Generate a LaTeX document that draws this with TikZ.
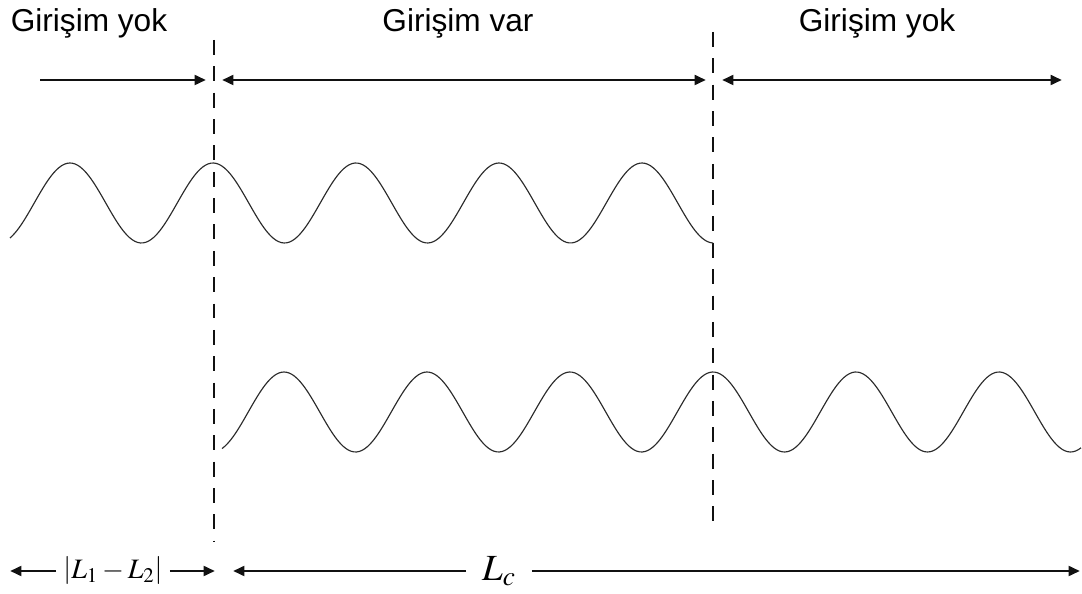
\documentclass[tikz,border=0pt]{standalone}
\usepackage{mathptmx}
\usepackage{fontspec}
\usepackage{tikz}
\usetikzlibrary{arrows.meta,positioning,calc}
\newfontfamily\labelfont{Liberation Sans}
\definecolor{wvdark}{HTML}{111111}
\definecolor{wvgrey}{HTML}{2A2A2A}

\begin{document}
\begin{tikzpicture}[x=0.02cm,y=-0.02cm,
  region/.style={font=\labelfont\fontsize{18}{21}\selectfont,anchor=base,inner sep=0pt},
  span/.style={wvdark,line width=1.7pt,-{Triangle[length=6.5pt,width=5.5pt]}},
  both/.style={wvdark,line width=1.7pt,{Triangle[length=6.5pt,width=5.5pt]}-{Triangle[length=6.5pt,width=5.5pt]}},
  cut/.style={wvdark,line width=0.7pt,dash pattern=on 8.5pt off 6.5pt},
  wave/.style={wvgrey,line width=0.65pt},
  lenlabel/.style={inner xsep=4pt,inner ysep=0pt}]
\useasboundingbox (0,0) rectangle (1082,594);
% boundaries of the overlap
\coordinate (c1top) at (214,40);
\coordinate (c1bot) at (214,542);
\coordinate (c2top) at (713,32);
\coordinate (c2bot) at (713,530);
\draw[cut] (c1top) -- (c1bot);
\draw[cut] (c2top) -- (c2bot);
% region labels
\node[region] (noleft) at (89,32) {Girişim yok};
\node[region] (yes) at (458,32) {Girişim var};
\node[region] (noright) at (877,32) {Girişim yok};
% region arrows
\coordinate (a1) at (40,80);
\coordinate (a2) at (206,80);
\coordinate (b1) at (222,80);
\coordinate (b2) at (706,80);
\coordinate (d1) at (722,80);
\coordinate (d2) at (1062,80);
\draw[span] (a1) -- (a2);
\draw[both] (b1) -- (b2);
\draw[both] (d1) -- (d2);
% the two wave trains (period 143 px)
\draw[wave] plot[domain=10:713,samples=260,smooth]
  (\x,{203-40*cos(2.51748*(\x-70))});
\draw[wave] plot[domain=222:1081,samples=320,smooth]
  (\x,{412-40*cos(2.51748*(\x-713))});
% lengths
\node[lenlabel] (dl) at (113,571)
  {\fontsize{16}{19}\selectfont$\left|L_1-L_2\right|$};
\node[lenlabel,inner xsep=9pt] (lc) at (499,571)
  {\fontsize{21}{24}\selectfont$L_c$};
\coordinate (dlL) at (10,571);
\coordinate (dlR) at (215,571);
\coordinate (lcL) at (233,571);
\coordinate (lcR) at (1080,571);
\draw[span] (dl.west|-dlL) -- (dlL);
\draw[span] (dl.east|-dlR) -- (dlR);
\draw[span] (lc.west|-lcL) -- (lcL);
\draw[span] (lc.east|-lcR) -- (lcR);
\end{tikzpicture}
\end{document}
